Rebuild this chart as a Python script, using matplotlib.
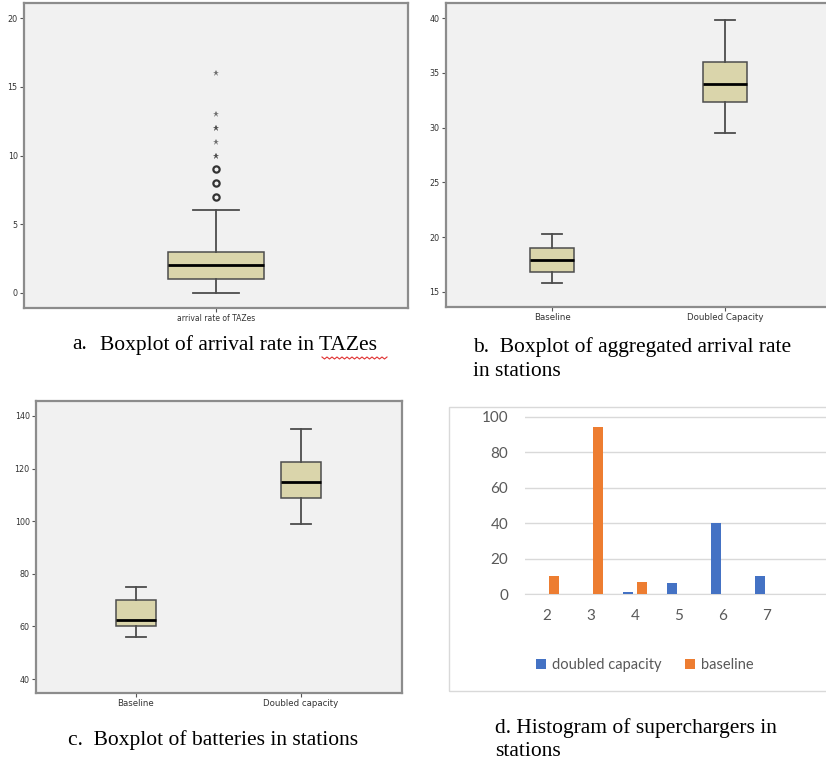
import numpy as np
import matplotlib.pyplot as plt
from matplotlib.patches import Rectangle

W, H = 826, 765

# a. arrival rate per TAZ
taz_label = 'arrival rate of TAZes'
taz_stats = dict(whislo=0, q1=1, med=2, q3=3, whishi=6)
taz_outliers = [7, 8, 9]
taz_extremes = [10, 10, 11, 12, 12, 13, 16]

# b. aggregated arrival rate per station
station_groups = ['Baseline', 'Doubled Capacity']
arrival_stats = [
    dict(whislo=15.8, q1=16.8, med=17.9, q3=19.0, whishi=20.3),
    dict(whislo=29.5, q1=32.3, med=34.0, q3=36.0, whishi=39.8),
]

# c. batteries per station
battery_groups = ['Baseline', 'Doubled capacity']
battery_stats = [
    dict(whislo=56, q1=60, med=62.5, q3=70, whishi=75),
    dict(whislo=99, q1=109, med=115, q3=122.5, whishi=135),
]

# d. superchargers per station (counts of stations)
chargers = [2, 3, 4, 5, 6, 7]
count_doubled = [0, 0, 1, 6, 40, 10]
count_baseline = [10, 94, 7, 0, 0, 0]

BOX = '#dad5ab'
EDGE = '#4d4d4d'
PANEL = '#f1f1f1'
SPINE = '#8c8c8c'
BLUE = '#4472c4'
ORANGE = '#ed7d31'


def px_rect(x0, y0, x1, y1):
    """pixel box (top-left origin) -> figure fraction rect"""
    return [x0 / W, 1 - y1 / H, (x1 - x0) / W, (y1 - y0) / H]


def spss_axes(rect, xlim, ylim, yticks):
    ax = fig.add_axes(rect)
    ax.set_facecolor(PANEL)
    for s in ax.spines.values():
        s.set_color(SPINE)
        s.set_linewidth(1.6)
    ax.set_xlim(*xlim)
    ax.set_ylim(*ylim)
    ax.set_yticks(yticks)
    ax.tick_params(axis='both', length=3, width=0.8, color='#555555',
                   labelsize=5.8, labelcolor='#333333', pad=1.5)
    return ax


def spss_box(ax, stats, positions, width, capw):
    ax.bxp([dict(s, fliers=[]) for s in stats], positions=positions,
           widths=width, capwidths=capw, showfliers=False, patch_artist=True,
           boxprops=dict(facecolor=BOX, edgecolor=EDGE, linewidth=1.1),
           whiskerprops=dict(color=EDGE, linewidth=1.3),
           capprops=dict(color=EDGE, linewidth=1.3),
           medianprops=dict(color='black', linewidth=2.0))


fig = plt.figure(figsize=(W / 100, H / 100), dpi=100)
fig.patch.set_facecolor('white')

# --- a ---
ax_a = spss_axes(px_rect(24, 3, 408, 308), (0, 1), (-1.1, 21.1), [0, 5, 10, 15, 20])
spss_box(ax_a, [taz_stats], [0.5], 0.25, 0.12)
ax_a.plot([0.5] * len(taz_outliers), taz_outliers, 'o', ms=4.5, mfc='none',
          mec='#333333', mew=1.6)
ax_a.plot([0.5] * len(taz_extremes), taz_extremes, '*', ms=4.5, color='#444444',
          alpha=0.75, mew=0)
ax_a.set_xticks([0.5])
ax_a.set_xticklabels([taz_label], fontsize=5.5)

# --- b ---
ax_b = spss_axes(px_rect(446, 3, 830, 307), (0.387, 2.607), (13.63, 41.37),
                 [15, 20, 25, 30, 35, 40])
spss_box(ax_b, arrival_stats, [1, 2], 0.249, 0.121)
ax_b.set_xticks([1, 2])
ax_b.set_xticklabels(station_groups, fontsize=6.2, fontweight='medium')

# --- c ---
ax_c = spss_axes(px_rect(36, 401, 402, 693), (0.394, 2.612), (34.7, 145.7),
                 [40, 60, 80, 100, 120, 140])
spss_box(ax_c, battery_stats, [1, 2], 0.248, 0.121)
ax_c.set_xticks([1, 2])
ax_c.set_xticklabels(battery_groups, fontsize=6.2, fontweight='medium')

# --- d (Excel-style column chart) ---
fig.patches.append(Rectangle((449 / W, 1 - 691 / H), (400) / W, (691 - 407) / H,
                             transform=fig.transFigure, fill=False,
                             edgecolor='#d9d9d9', linewidth=1.0))
ax_d = fig.add_axes(px_rect(525, 407, 826, 594))
x = np.array(chargers)
ax_d.bar(x - 0.15, count_doubled, width=0.23, color=BLUE, label='doubled capacity', zorder=3)
ax_d.bar(x + 0.15, count_baseline, width=0.23, color=ORANGE, label='baseline', zorder=3)
ax_d.set_xlim(1.5, 8.34)
ax_d.set_ylim(0, 105.5)
ax_d.set_yticks([0, 20, 40, 60, 80, 100])
ax_d.set_xticks(chargers)
ax_d.grid(axis='y', color='#d9d9d9', linewidth=1.0, zorder=0)
for s in ['top', 'right', 'left']:
    ax_d.spines[s].set_visible(False)
ax_d.spines['bottom'].set_color('#d9d9d9')
ax_d.set_facecolor('none')
ax_d.tick_params(axis='both', length=0, labelsize=11, labelcolor='#595959')
ax_d.tick_params(axis='y', pad=12)
ax_d.tick_params(axis='x', pad=11)
for t in ax_d.get_xticklabels() + ax_d.get_yticklabels():
    t.set_family('Lato')
fig.legend(loc='center', bbox_to_anchor=(645 / W, 1 - 665 / H), ncol=2,
           frameon=False, handlelength=0.7, handleheight=0.7, handletextpad=0.4,
           columnspacing=1.6, prop=dict(family='Lato', size=10.5),
           labelcolor='#595959')

# --- captions ---
cap = dict(family='Liberation Serif', fontsize=15.5, va='center', color='black')
fig.text(72 / W, 1 - 345 / H, 'a.', **cap)
fig.text(100 / W, 1 - 345 / H, 'Boxplot of arrival rate in TAZes', **cap)
fig.text(473 / W, 1 - 347 / H, 'b.  Boxplot of aggregated arrival rate', **cap)
fig.text(473 / W, 1 - 371 / H, 'in stations', **cap)
fig.text(68 / W, 1 - 740 / H, 'c.  Boxplot of batteries in stations', **cap)
fig.text(495 / W, 1 - 728 / H, 'd. Histogram of superchargers in', **cap)
fig.text(495 / W, 1 - 752 / H, 'stations', **cap)

# spell-check squiggle under "TAZes"
sx = np.arange(322, 388, 2.5)
sy = 358 + np.where(np.arange(len(sx)) % 2 == 0, -1.0, 1.0)
fig.add_artist(plt.Line2D(sx / W, 1 - sy / H, color='#e03030', linewidth=0.8))

fig.savefig('out.png', dpi=100)
